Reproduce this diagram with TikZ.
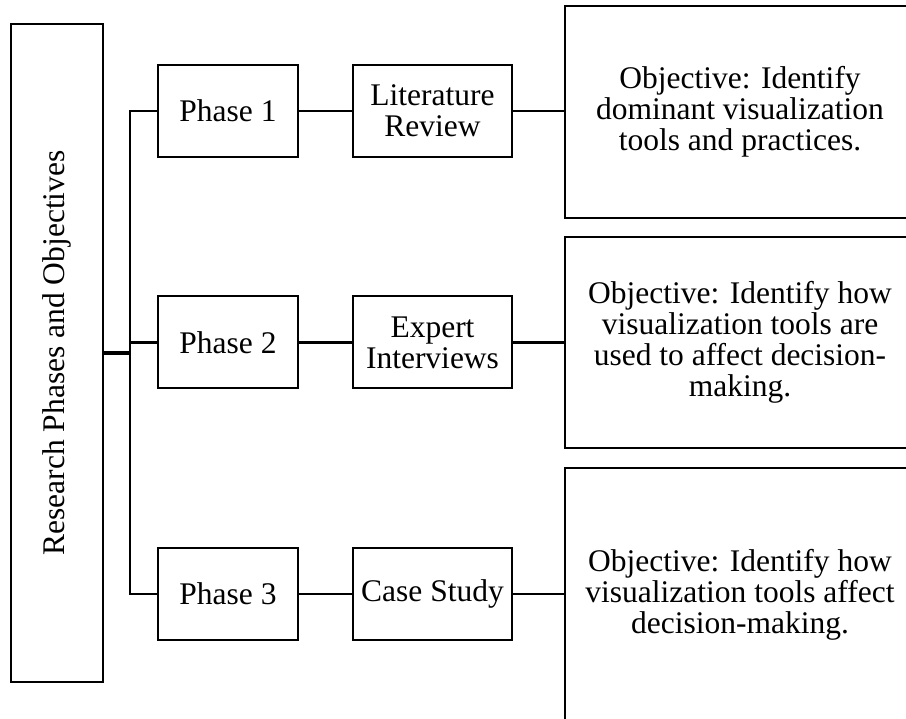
\documentclass[tikz,border=0pt]{standalone}
\usepackage{fontspec}
\setmainfont{Liberation Serif}
\begin{document}
\begin{tikzpicture}[x=1pt,y=-1pt,
  box/.style={draw=black, line width=2pt, fill=white, inner sep=2pt, align=center,
    font=\fontsize{31.5}{31}\selectfont},
  phasebox/.style={box, minimum width=140pt, minimum height=92pt},
  midbox/.style={box, minimum width=159pt, minimum height=92pt},
  objbox/.style={box, minimum width=350pt},
  conn/.style={line width=2.8pt},
  trunkline/.style={line width=2.6pt},
  hubline/.style={line width=4.2pt}]
\clip (0,0) rectangle (906,719);
\fill[white] (0,0) rectangle (906,719);

\node[box, minimum width=658pt, minimum height=92pt, rotate=90] (main) at (57,353) {Research Phases and Objectives};

\node[phasebox] (p1) at (228,111) {Phase 1};
\node[phasebox] (p2) at (228,342.5) {Phase 2};
\node[phasebox] (p3) at (228,594) {Phase 3};

\node[midbox] (m1) at (432.5,111) {Literature\\Review};
\node[midbox] (m2) at (432.5,342.5) {Expert\\Interviews};
\node[midbox] (m3) at (432.5,594) {Case Study};

\node[objbox, minimum height=212pt] (o1) at (740,112) {Objective: Identify\\dominant visualization\\tools and practices.};
\node[objbox, minimum height=211pt] (o2) at (740,342.5) {Objective: Identify how\\visualization tools are\\used to affect decision-\\making.};
\node[objbox, minimum height=254pt] (o3) at (740,595) {Objective: Identify how\\visualization tools affect\\decision-making.};

\coordinate (tr) at (130,0);
\coordinate (hub) at (130,353);

\draw[hubline] (main.south |- hub) -- (hub);
\draw[trunkline] (p1.west) -- (p1.west -| tr) -- (p3.west -| tr) -- (p3.west);
\draw[trunkline] (p2.west) -- (p2.west -| tr);

\draw[conn] (p1) -- (m1);
\draw[conn] (p2) -- (m2);
\draw[conn] (p3) -- (m3);
\draw[conn] (m1.east) -- (m1.east -| o1.west);
\draw[conn] (m2.east) -- (m2.east -| o2.west);
\draw[conn] (m3.east) -- (m3.east -| o3.west);
\end{tikzpicture}
\end{document}
